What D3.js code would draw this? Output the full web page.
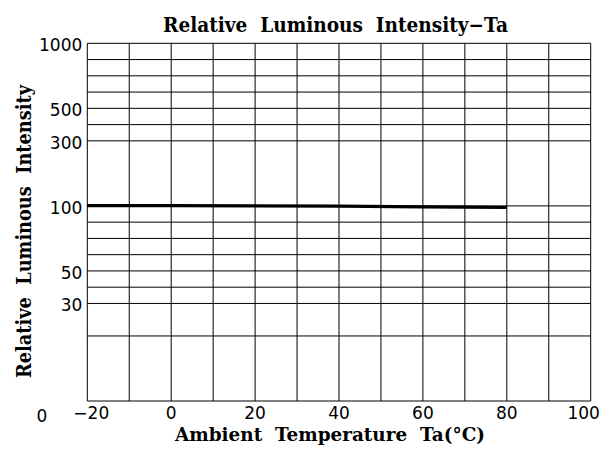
<!DOCTYPE html>
<html>
<head>
<meta charset="utf-8">
<script src="https://cdn.jsdelivr.net/npm/d3@7"></script>
<style>
    body { margin: 0; background: #ffffff; }
    svg { display: block; }
    text { white-space: pre; }
</style>
</head>
<body>
<svg id="chart" width="604" height="450"></svg>
<script>
// ---- data ----
const temp_ticks = [-20, 0, 20, 40, 60, 80, 100];
const temp_grid = [-20, -10, 0, 10, 20, 30, 40, 50, 60, 70, 80, 90, 100];

// the y grid of the original is an uneven log-like paper: each grid value
// sits on a "rank" of equal small steps
const intensity_grid = [1000, 900, 800, 700, 500, 400, 300, 100, 90, 80, 70, 50, 40, 30, 20, 10];
const intensity_rank = [0, 1, 2, 3, 4, 5, 6, 10, 11, 12, 13, 14, 15, 16, 18, 22];
const intensity_ticks = [1000, 500, 300, 100, 50, 30];

const curve_temp = [-20, 0, 20, 40, 60, 80];
const curve_intensity = [101, 100.6, 100.2, 99.8, 99.4, 99];

// ---- layout ----
const svg = d3.select("#chart");
const plot_left = 87.3;
const plot_right = 590.7;
const plot_top = 43.3;
const plot_bottom = 401;

const x = d3.scaleLinear().domain([-20, 100]).range([plot_left, plot_right]);
const rank = d3.scaleLinear().domain(intensity_grid).range(intensity_rank);
const rank_to_px = d3.scaleLinear().domain([0, d3.max(intensity_rank)]).range([plot_top, plot_bottom]);
const y = (v) => rank_to_px(rank(v));

const label_font = "'DejaVu Sans', sans-serif";
const title_font = "'DejaVu Serif', serif";

function drawGrid() {
    const grid = svg.append("g").attr("stroke", "#000").attr("stroke-width", 1);
    grid.selectAll("line.h")
        .data(intensity_grid)
        .join("line")
        .attr("class", "h")
        .attr("x1", plot_left)
        .attr("x2", plot_right)
        .attr("y1", (d) => y(d))
        .attr("y2", (d) => y(d));
    grid.selectAll("line.v")
        .data(temp_grid)
        .join("line")
        .attr("class", "v")
        .attr("x1", (d) => x(d))
        .attr("x2", (d) => x(d))
        .attr("y1", plot_top)
        .attr("y2", plot_bottom);
}

function drawTickLabels() {
    svg.append("g")
        .selectAll("text")
        .data(intensity_ticks)
        .join("text")
        .attr("x", plot_left - 5)
        .attr("y", (d) => y(d) + 2)
        .attr("text-anchor", "end")
        .attr("dominant-baseline", "central")
        .attr("font-family", label_font)
        .attr("font-size", 17)
        .text((d) => d);

    // stray "0" under the y labels in the original
    svg.append("text")
        .attr("x", 42)
        .attr("y", plot_bottom + 21)
        .attr("text-anchor", "middle")
        .attr("font-family", label_font)
        .attr("font-size", 17)
        .text("0");

    svg.append("g")
        .selectAll("text")
        .data(temp_ticks)
        .join("text")
        .attr("x", (d) => x(d) + (d === 100 ? -7 : d < 0 ? 4 : 0))
        .attr("y", plot_bottom + 18)
        .attr("text-anchor", "middle")
        .attr("font-family", label_font)
        .attr("font-size", 17)
        .text((d) => (d < 0 ? "\u2212" + Math.abs(d) : d));
}

function drawCurve() {
    const pts = curve_temp.map((t, i) => [t, curve_intensity[i]]);
    svg.append("path")
        .datum(pts)
        .attr("fill", "none")
        .attr("stroke", "#000")
        .attr("stroke-width", 3.2)
        .attr("d", d3.line().x((d) => x(d[0])).y((d) => y(d[1])));
}

function drawTitles() {
    svg.append("text")
        .attr("x", 335.5)
        .attr("y", 32)
        .attr("text-anchor", "middle")
        .attr("font-family", title_font)
        .attr("font-weight", "bold")
        .attr("font-size", 20)
        .attr("textLength", 345)
        .attr("lengthAdjust", "spacingAndGlyphs")
        .text("Relative  Luminous  Intensity\u2212Ta");

    svg.append("text")
        .attr("x", 330)
        .attr("y", 441)
        .attr("text-anchor", "middle")
        .attr("font-family", title_font)
        .attr("font-weight", "bold")
        .attr("font-size", 19)
        .attr("textLength", 310)
        .attr("lengthAdjust", "spacingAndGlyphs")
        .text("Ambient  Temperature  Ta(\u00b0C)");

    svg.append("text")
        .attr("transform", "translate(31,231.5) rotate(-90)")
        .attr("text-anchor", "middle")
        .attr("font-family", title_font)
        .attr("font-weight", "bold")
        .attr("font-size", 20)
        .attr("textLength", 293)
        .attr("lengthAdjust", "spacingAndGlyphs")
        .text("Relative  Luminous  Intensity");
}

drawGrid();
drawCurve();
drawTickLabels();
drawTitles();
</script>
</body>
</html>
